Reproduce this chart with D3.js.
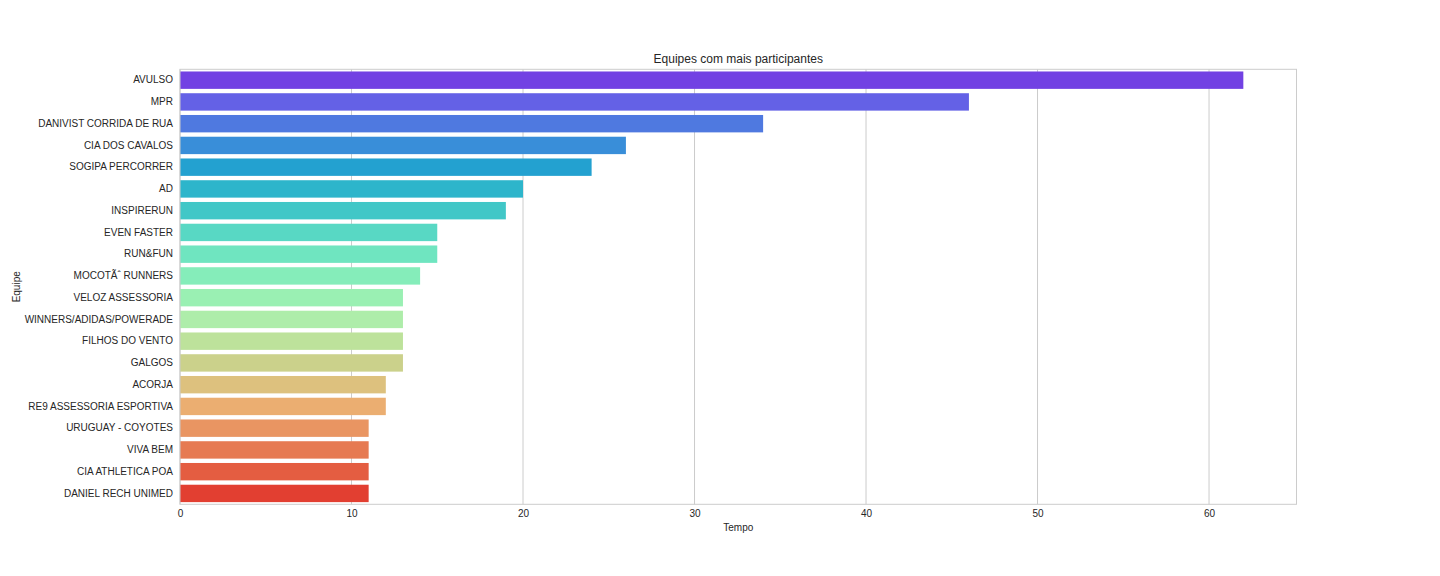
<!DOCTYPE html>
<html><head><meta charset="utf-8">
<script src="https://cdn.jsdelivr.net/npm/d3@7"></script>
<style>body{margin:0;background:#fff}svg{display:block}text{font-family:"Liberation Sans",Arial,sans-serif;fill:#262626}</style>
</head><body><svg id="c" width="1440" height="576"></svg>
<script>
const categories = ["AVULSO","MPR","DANIVIST CORRIDA DE RUA","CIA DOS CAVALOS","SOGIPA PERCORRER","AD","INSPIRERUN","EVEN FASTER","RUN&FUN","MOCOTÃ\u0081 RUNNERS","VELOZ ASSESSORIA","WINNERS/ADIDAS/POWERADE","FILHOS DO VENTO","GALGOS","ACORJA","RE9 ASSESSORIA ESPORTIVA","URUGUAY - COYOTES","VIVA BEM","CIA ATHLETICA POA","DANIEL RECH UNIMED"];
const values = [62,46,34,26,24,20,19,15,15,14,13,13,13,13,12,12,11,11,11,11];
const xTicks = [0,10,20,30,40,50,60];
const title = "Equipes com mais participantes";
const xLabel = "Tempo";
const yLabel = "Equipe";

const labelsShown = categories.map(c => c.replace("\u0081", "\u02C6").replace("Ã\u02C6","Ã\u02C6"));

const svg = d3.select("#c");
const m = {l:180, r:1296.5, t:69.3, b:504.3};
const x = d3.scaleLinear().domain([0, d3.max(values)*1.05]).range([m.l, m.r]);
const y = d3.scaleBand().domain(categories).range([m.t, m.b]).paddingInner(0.2).paddingOuter(0.1);

function rainbow(t){
  const r = Math.min(1, Math.abs(2*t-0.5));
  const g = Math.sin(Math.PI*t);
  const b = Math.cos(Math.PI/2*t);
  const c = d3.rgb(r*255, g*255, b*255);
  const h = d3.hsl(c); h.s *= 0.75;
  return h.formatHex();
}
const n = categories.length;
const colors = categories.map((c,i) => rainbow((i+1)/(n+1)));

// grid
svg.append("g").selectAll("line").data(xTicks).join("line")
  .attr("x1", d=>x(d)).attr("x2", d=>x(d)).attr("y1", m.t).attr("y2", m.b)
  .attr("stroke", "#cccccc").attr("stroke-width", 1);

// bars
svg.append("g").selectAll("rect").data(categories).join("rect")
  .attr("x", x(0)).attr("y", d=>y(d))
  .attr("width", (d,i)=>x(values[i])-x(0)).attr("height", y.bandwidth())
  .attr("fill", (d,i)=>colors[i]);

// frame
svg.append("rect").attr("x", m.l).attr("y", m.t).attr("width", m.r-m.l).attr("height", m.b-m.t)
  .attr("fill","none").attr("stroke","#cccccc").attr("stroke-width",1);

// x axis
const xa = svg.append("g").attr("transform", `translate(0,${m.b})`)
  .call(d3.axisBottom(x).tickValues(xTicks).tickSize(0).tickPadding(6).tickFormat(d3.format("d")));
xa.select(".domain").remove();
xa.selectAll("text").attr("font-size", 10).attr("fill","#262626").attr("font-family",'"Liberation Sans",Arial,sans-serif');

// y axis
const ya = svg.append("g").attr("transform", `translate(${m.l},0)`)
  .call(d3.axisLeft(y).tickSize(0).tickPadding(7).tickFormat((d,i)=>labelsShown[i]));
ya.select(".domain").remove();
ya.selectAll("text").attr("font-size", 10).attr("fill","#262626").attr("font-family",'"Liberation Sans",Arial,sans-serif');

svg.append("text").attr("x", (m.l+m.r)/2).attr("y", 63).attr("text-anchor","middle").attr("font-size", 12).text(title);
svg.append("text").attr("x", (m.l+m.r)/2).attr("y", 531).attr("text-anchor","middle").attr("font-size", 10).text(xLabel);
svg.append("text").attr("transform", `translate(20,${(m.t+m.b)/2}) rotate(-90)`).attr("text-anchor","middle").attr("font-size", 10).text(yLabel);
</script></body></html>
